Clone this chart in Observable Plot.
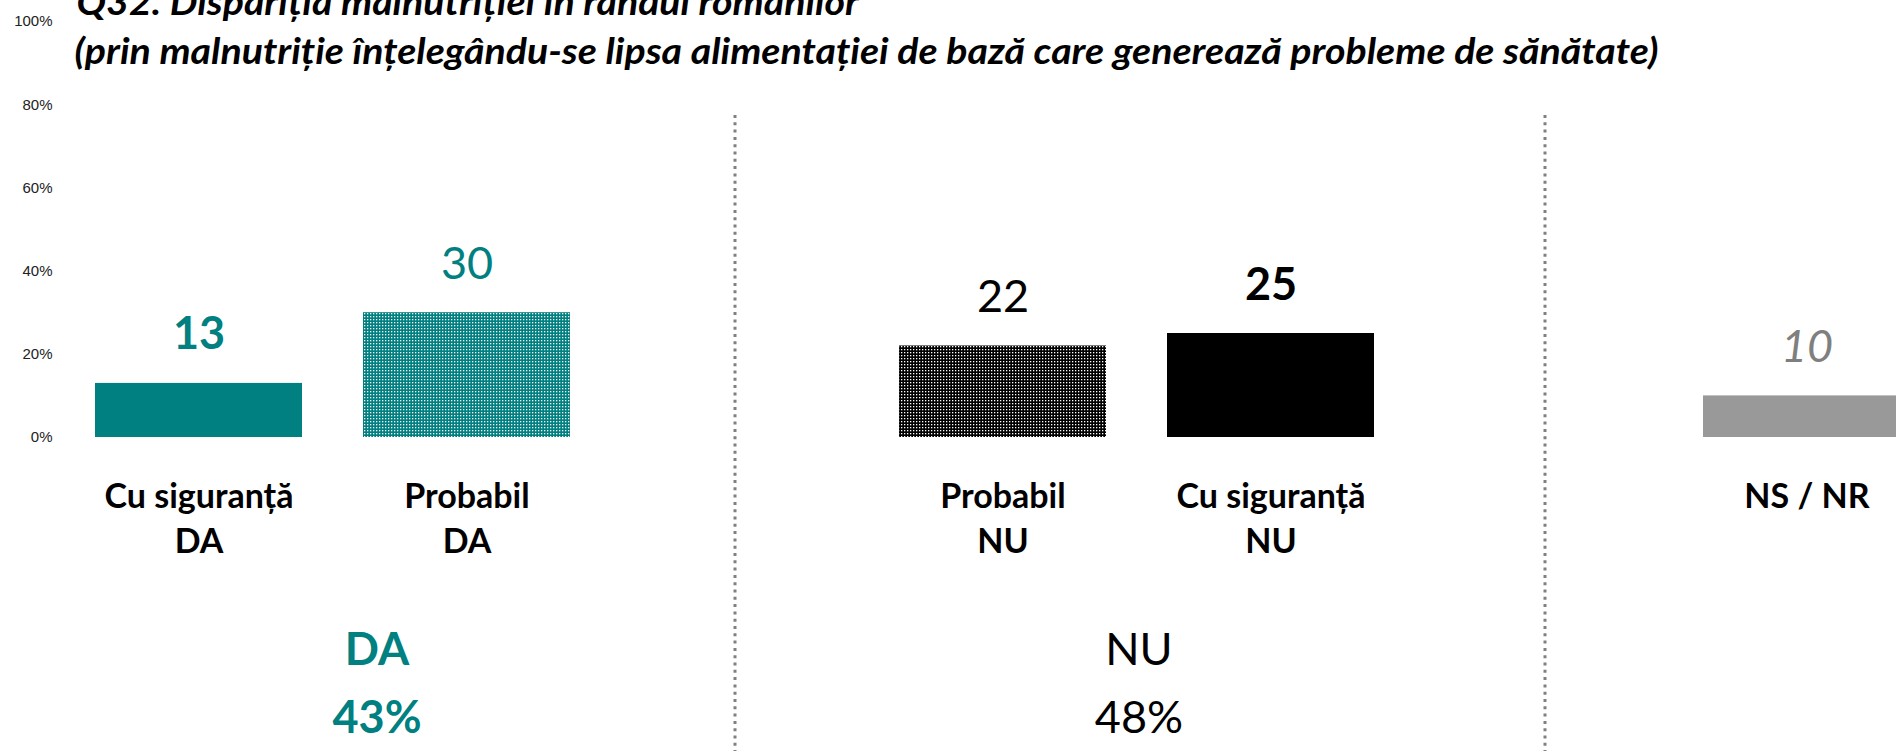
<!DOCTYPE html>
<html>
<head>
<meta charset="utf-8">
<script src="https://cdn.jsdelivr.net/npm/d3@7"></script>
<script src="https://cdn.jsdelivr.net/npm/@observablehq/plot@0.6"></script>
<style>
  html, body { margin: 0; padding: 0; background: #fff; overflow: hidden; }
  #chart svg { display: block; overflow: hidden; }
</style>
</head>
<body>
<div id="chart"></div>
<script>
// ---- data ----
const categories = ["Cu siguranță DA", "Probabil DA", "Probabil NU", "Cu siguranță NU", "NS / NR"];
const values = [13, 30, 22, 25, 10];
const labelLine1 = ["Cu siguranță", "Probabil", "Probabil", "Cu siguranță", "NS / NR"];
const labelLine2 = ["DA", "DA", "NU", "NU", ""];
const groupNames = ["DA", "NU"];
const groupTotals = [43, 48];
const yTicks = [0, 20, 40, 60, 80, 100];
const slots = ["Cu siguranță DA", "Probabil DA", "sep1", "Probabil NU", "Cu siguranță NU", "sep2", "NS / NR"];
const title1 = "Q32. Dispariția malnutriției în rândul românilor";
const title2 = "(prin malnutriție înțelegându-se lipsa alimentației de bază care generează probleme de sănătate)";

// ---- styles ----
const TEAL = "#008080";
const barFills = [TEAL, "url(#dotTeal)", "url(#dotBlack)", "#000000", "#999999"];
const valueStyles = [
  {fill: TEAL, fontWeight: "bold"},
  {fill: TEAL, fontWeight: "normal"},
  {fill: "#000", fontWeight: "normal"},
  {fill: "#000", fontWeight: "bold"},
  {fill: "#7f7f7f", fontWeight: "normal", fontStyle: "italic"}
];
const FONT = "Lato, 'Open Sans', sans-serif";

const bars = categories.map((c, i) => ({cat: c, value: values[i], fill: barFills[i]}));

const chart = Plot.plot({
  width: 1896,
  height: 751,
  marginTop: 115,
  marginBottom: 0,
  marginLeft: 54,
  marginRight: 0,
  style: {fontFamily: FONT, background: "#fff", overflow: "hidden"},
  x: {type: "band", domain: slots, range: [64.5, 1940.5], paddingInner: 0.228, paddingOuter: 0.114, align: 0.5, axis: null},
  y: {domain: [0, 100], range: [437, 21], axis: null},
  color: {type: "identity"},
  marks: [
    // title
    Plot.text([title1], {frameAnchor: "top-left", text: d => d, textAnchor: "start", lineAnchor: "bottom",
      dx: 22, dy: -101, fontSize: 36, fontWeight: "bold", fontStyle: "italic", fill: "#000"}),
    Plot.text([title2], {frameAnchor: "top-left", text: d => d, textAnchor: "start", lineAnchor: "bottom",
      dx: 20, dy: -52, fontSize: 36, fontWeight: "bold", fontStyle: "italic", fill: "#000"}),
    // y axis labels
    Plot.axisY(yTicks, {tickSize: 0, tickPadding: 2, tickFormat: d => d + "%", fontSize: 15,
      fontFamily: "'Liberation Sans', Arial, sans-serif", fill: "#222", label: null}),
    // dividers
    Plot.ruleX(["sep1"], {x: d => d, stroke: "#808080", strokeWidth: 3, strokeDasharray: "3 4.3"}),
    Plot.ruleX(["sep2"], {x: d => d, dx: 6, stroke: "#808080", strokeWidth: 3, strokeDasharray: "3 4.3"}),
    // bars
    Plot.barY(bars, {x: "cat", y: "value", fill: "fill"}),
    // value labels
    ...valueStyles.map((s, i) => Plot.text([i], {
      x: j => categories[j], y: j => values[j], text: j => String(values[j]),
      lineAnchor: "bottom", dy: -34, fontSize: 45, ...s
    })),
    // category labels
    Plot.text(categories, {
      x: d => d, y: 0, text: (d, i) => labelLine2[i] ? labelLine1[i] + "\n" + labelLine2[i] : labelLine1[i],
      lineAnchor: "top", dy: 38, lineHeight: 1.34, fontSize: 34, fontWeight: "bold", fill: "#000"
    }),
    // group totals
    Plot.text([0], {
      x: () => categories[1], y: 0, text: j => groupNames[j] + "\n" + groupTotals[j] + "%",
      dx: -90, dy: 180, lineAnchor: "top", lineHeight: 1.5, fontSize: 45, fontWeight: "bold", fill: TEAL
    }),
    Plot.text([1], {
      x: () => categories[2], y: 0, text: j => groupNames[j] + "\n" + groupTotals[j] + "%",
      dx: 136, dy: 180, lineAnchor: "top", lineHeight: 1.5, fontSize: 45, fontWeight: "normal", fill: "#000"
    })
  ]
});

document.getElementById("chart").appendChild(chart);

// patterns for the dotted bars
const svg = d3.select(chart);
const defs = svg.insert("defs", ":first-child");
function dotPattern(id, bg, dot) {
  const p = defs.append("pattern").attr("id", id).attr("patternUnits", "userSpaceOnUse")
    .attr("width", 3).attr("height", 3);
  p.append("rect").attr("width", 3).attr("height", 3).attr("fill", bg);
  p.append("rect").attr("x", 1).attr("y", 1).attr("width", 1.3).attr("height", 1.3).attr("fill", dot);
}
dotPattern("dotTeal", TEAL, "#ffffff");
dotPattern("dotBlack", "#000000", "#ffffff");

// condense the title to the reference width (line 2 spans ~1584px)
const titleNodes = svg.selectAll("text").filter(function() {
  return this.textContent === title1 || this.textContent === title2;
}).nodes();
const t2 = titleNodes.find(n => n.textContent === title2);
if (t2) {
  const ratio = 1584 / t2.getComputedTextLength();
  titleNodes.forEach(n => {
    const w = n.getComputedTextLength();
    n.setAttribute("textLength", w * ratio);
    n.setAttribute("lengthAdjust", "spacingAndGlyphs");
  });
}
</script>
</body>
</html>
